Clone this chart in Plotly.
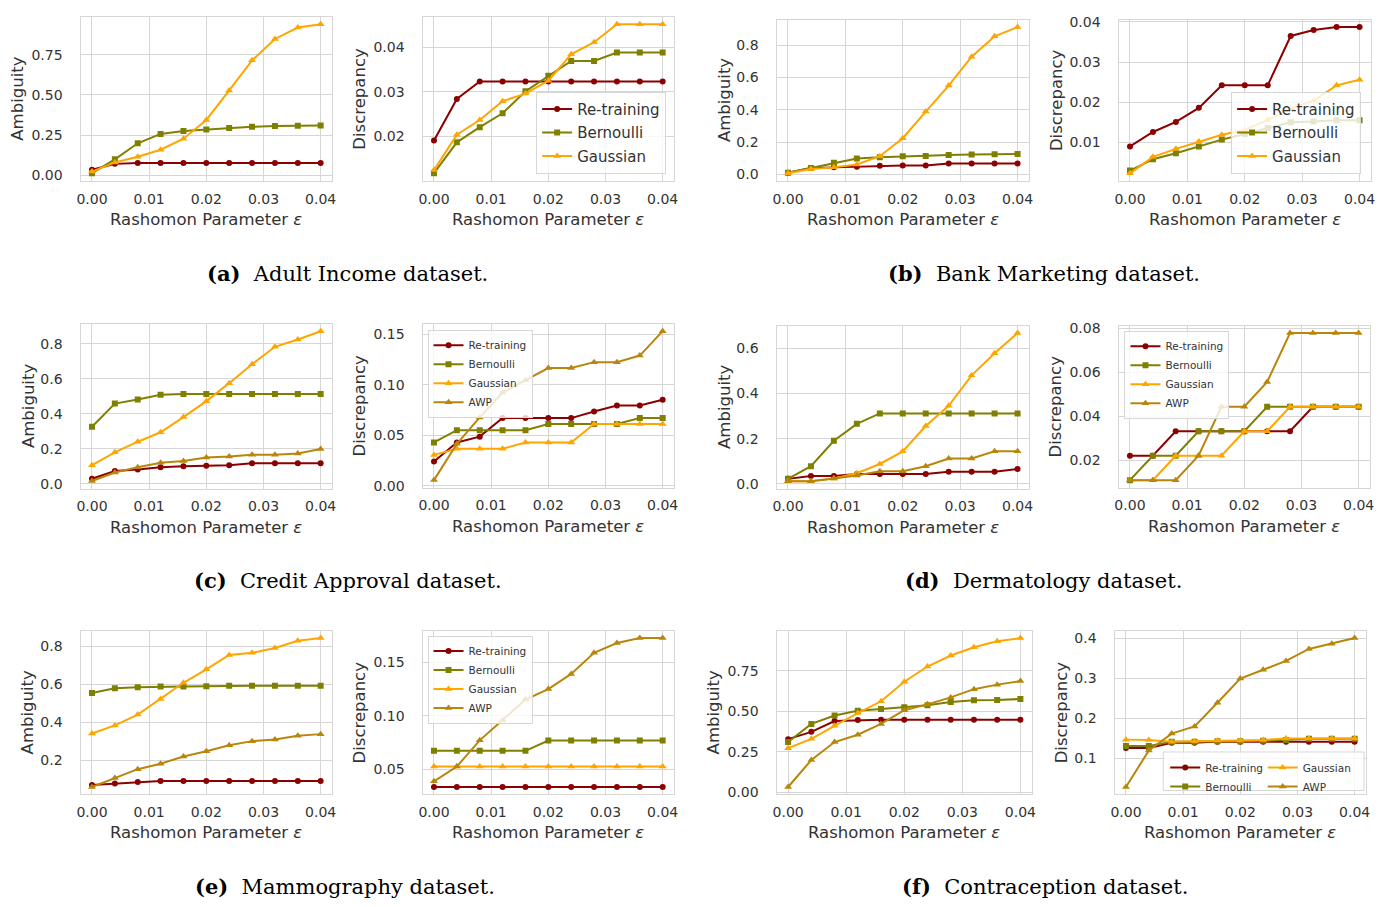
import plotly.graph_objects as go

# Rashomon parameter sweep shared by every panel
eps = [0.000, 0.004, 0.008, 0.012, 0.016, 0.020, 0.024, 0.028, 0.032, 0.036, 0.040]

# (a) Adult Income
adult_amb_retrain = [0.036, 0.072, 0.078, 0.078, 0.078, 0.078, 0.078, 0.078, 0.078, 0.078, 0.078]
adult_amb_bern = [0.014, 0.100, 0.200, 0.258, 0.276, 0.286, 0.295, 0.303, 0.307, 0.309, 0.311]
adult_amb_gauss = [0.024, 0.081, 0.116, 0.160, 0.228, 0.345, 0.528, 0.715, 0.848, 0.919, 0.939]
adult_dis_retrain = [0.0191, 0.0284, 0.0323, 0.0323, 0.0323, 0.0323, 0.0323, 0.0323, 0.0323, 0.0323, 0.0323]
adult_dis_bern = [0.0118, 0.0187, 0.0221, 0.0252, 0.0301, 0.0336, 0.0369, 0.0369, 0.0388, 0.0388, 0.0388]
adult_dis_gauss = [0.0125, 0.0204, 0.0237, 0.0279, 0.0296, 0.0325, 0.0384, 0.0411, 0.0451, 0.0451, 0.0451]

# (b) Bank Marketing
bank_amb_retrain = [0.010, 0.039, 0.043, 0.047, 0.053, 0.055, 0.055, 0.067, 0.067, 0.067, 0.067]
bank_amb_bern = [0.010, 0.039, 0.071, 0.098, 0.106, 0.112, 0.114, 0.120, 0.122, 0.124, 0.126]
bank_amb_gauss = [0.006, 0.033, 0.043, 0.061, 0.112, 0.224, 0.389, 0.550, 0.729, 0.855, 0.912]
bank_dis_retrain = [0.0090, 0.0126, 0.0151, 0.0186, 0.0242, 0.0242, 0.0242, 0.0365, 0.0380, 0.0387, 0.0387]
bank_dis_bern = [0.0030, 0.0058, 0.0073, 0.0090, 0.0107, 0.0121, 0.0136, 0.0150, 0.0152, 0.0155, 0.0155]
bank_dis_gauss = [0.0023, 0.0064, 0.0084, 0.0102, 0.0119, 0.0131, 0.0156, 0.0184, 0.0204, 0.0242, 0.0256]

# (c) Credit Approval
credit_amb_retrain = [0.028, 0.072, 0.081, 0.094, 0.100, 0.102, 0.106, 0.117, 0.117, 0.117, 0.117]
credit_amb_bern = [0.326, 0.458, 0.481, 0.508, 0.513, 0.513, 0.513, 0.513, 0.513, 0.513, 0.513]
credit_amb_gauss = [0.106, 0.179, 0.240, 0.294, 0.381, 0.472, 0.575, 0.683, 0.783, 0.825, 0.872]
credit_amb_awp = [0.015, 0.064, 0.094, 0.119, 0.130, 0.149, 0.155, 0.166, 0.166, 0.172, 0.198]
credit_dis_retrain = [0.0240, 0.0428, 0.0486, 0.0670, 0.0670, 0.0670, 0.0670, 0.0736, 0.0794, 0.0794, 0.0852]
credit_dis_bern = [0.0428, 0.0550, 0.0550, 0.0550, 0.0550, 0.0612, 0.0612, 0.0612, 0.0612, 0.0670, 0.0670]
credit_dis_gauss = [0.0305, 0.0366, 0.0366, 0.0366, 0.0428, 0.0428, 0.0428, 0.0612, 0.0612, 0.0612, 0.0612]
credit_dis_awp = [0.0055, 0.0415, 0.0677, 0.0923, 0.1046, 0.1166, 0.1166, 0.1225, 0.1225, 0.1290, 0.1532]

# (d) Dermatology
derm_amb_retrain = [0.022, 0.035, 0.035, 0.044, 0.044, 0.044, 0.044, 0.054, 0.054, 0.054, 0.066]
derm_amb_bern = [0.022, 0.078, 0.191, 0.266, 0.312, 0.312, 0.312, 0.312, 0.312, 0.312, 0.312]
derm_amb_gauss = [0.012, 0.012, 0.024, 0.047, 0.088, 0.144, 0.256, 0.346, 0.481, 0.579, 0.668]
derm_amb_awp = [0.012, 0.012, 0.024, 0.037, 0.056, 0.056, 0.078, 0.112, 0.112, 0.144, 0.144]
derm_dis_retrain = [0.0222, 0.0222, 0.0333, 0.0333, 0.0333, 0.0333, 0.0333, 0.0333, 0.0444, 0.0444, 0.0444]
derm_dis_bern = [0.0111, 0.0222, 0.0222, 0.0333, 0.0333, 0.0333, 0.0444, 0.0444, 0.0444, 0.0444, 0.0444]
derm_dis_gauss = [0.0111, 0.0111, 0.0222, 0.0222, 0.0222, 0.0333, 0.0333, 0.0444, 0.0444, 0.0444, 0.0444]
derm_dis_awp = [0.0111, 0.0111, 0.0111, 0.0222, 0.0444, 0.0444, 0.0556, 0.0778, 0.0778, 0.0778, 0.0778]

# (e) Mammography
mammo_amb_retrain = [0.069, 0.077, 0.084, 0.089, 0.089, 0.089, 0.089, 0.089, 0.089, 0.089, 0.089]
mammo_amb_bern = [0.554, 0.579, 0.584, 0.588, 0.588, 0.590, 0.593, 0.593, 0.593, 0.593, 0.593]
mammo_amb_gauss = [0.340, 0.383, 0.440, 0.523, 0.608, 0.679, 0.755, 0.766, 0.792, 0.830, 0.844]
mammo_amb_awp = [0.058, 0.105, 0.152, 0.181, 0.219, 0.247, 0.278, 0.300, 0.309, 0.328, 0.337]
mammo_dis_retrain = [0.0333, 0.0333, 0.0333, 0.0333, 0.0333, 0.0333, 0.0333, 0.0333, 0.0333, 0.0333, 0.0333]
mammo_dis_bern = [0.0672, 0.0672, 0.0672, 0.0672, 0.0672, 0.0768, 0.0768, 0.0768, 0.0768, 0.0768, 0.0768]
mammo_dis_gauss = [0.0525, 0.0525, 0.0525, 0.0525, 0.0525, 0.0525, 0.0525, 0.0525, 0.0525, 0.0525, 0.0525]
mammo_dis_awp = [0.0386, 0.0525, 0.0770, 0.0958, 0.1152, 0.1250, 0.1392, 0.1590, 0.1682, 0.1728, 0.1728]

# (f) Contraception
contra_amb_retrain = [0.328, 0.373, 0.440, 0.446, 0.448, 0.448, 0.448, 0.448, 0.448, 0.448, 0.448]
contra_amb_bern = [0.310, 0.422, 0.474, 0.503, 0.515, 0.525, 0.537, 0.558, 0.568, 0.570, 0.576]
contra_amb_gauss = [0.272, 0.330, 0.410, 0.489, 0.562, 0.683, 0.777, 0.845, 0.896, 0.933, 0.953]
contra_amb_awp = [0.032, 0.199, 0.310, 0.355, 0.422, 0.507, 0.543, 0.586, 0.637, 0.665, 0.687]
contra_dis_retrain = [0.126, 0.126, 0.139, 0.139, 0.142, 0.142, 0.142, 0.142, 0.142, 0.142, 0.142]
contra_dis_bern = [0.131, 0.131, 0.142, 0.142, 0.143, 0.143, 0.144, 0.146, 0.149, 0.149, 0.149]
contra_dis_gauss = [0.147, 0.146, 0.142, 0.143, 0.145, 0.145, 0.146, 0.150, 0.150, 0.150, 0.150]
contra_dis_awp = [0.029, 0.120, 0.162, 0.180, 0.239, 0.299, 0.321, 0.343, 0.373, 0.386, 0.400]

captions = [
    "<b>(a)</b>  Adult Income dataset.",
    "<b>(b)</b>  Bank Marketing dataset.",
    "<b>(c)</b>  Credit Approval dataset.",
    "<b>(d)</b>  Dermatology dataset.",
    "<b>(e)</b>  Mammography dataset.",
    "<b>(f)</b>  Contraception dataset.",
]

W, H = 1382, 907
FONT = "DejaVu Sans"
TEXT = "#333333"
GRID = "#d6d6d6"

STYLE = {
    "Re-training": dict(color="#8b0000", symbol="circle", size=6),
    "Bernoulli": dict(color="#808000", symbol="square", size=6),
    "Gaussian": dict(color="#ffa500", symbol="triangle-up", size=7),
    "AWP": dict(color="#b8860b", symbol="triangle-up", size=7),
}

# each panel: series, y label, y tick step, tick format, box in px (left, right, top, bottom),
# legend id, x position of the y label
panels = [
    ([("Re-training", adult_amb_retrain), ("Bernoulli", adult_amb_bern), ("Gaussian", adult_amb_gauss)],
     "Ambiguity", 0.25, ".2f", (77, 330, 11, 177), None, 17),
    ([("Re-training", adult_dis_retrain), ("Bernoulli", adult_dis_bern), ("Gaussian", adult_dis_gauss)],
     "Discrepancy", 0.01, ".2f", (421, 674, 11, 177), "legend", 361),
    ([("Re-training", bank_amb_retrain), ("Bernoulli", bank_amb_bern), ("Gaussian", bank_amb_gauss)],
     "Ambiguity", 0.2, ".1f", (777, 1031, 14, 177), None, 727),
    ([("Re-training", bank_dis_retrain), ("Bernoulli", bank_dis_bern), ("Gaussian", bank_dis_gauss)],
     "Discrepancy", 0.01, ".2f", (1121, 1375, 14, 177), "legend2", 1061),
    ([("Re-training", credit_amb_retrain), ("Bernoulli", credit_amb_bern), ("Gaussian", credit_amb_gauss), ("AWP", credit_amb_awp)],
     "Ambiguity", 0.2, ".1f", (77, 330, 322, 489), None, 27),
    ([("Re-training", credit_dis_retrain), ("Bernoulli", credit_dis_bern), ("Gaussian", credit_dis_gauss), ("AWP", credit_dis_awp)],
     "Discrepancy", 0.05, ".2f", (421, 674, 322, 488), "legend3", 361),
    ([("Re-training", derm_amb_retrain), ("Bernoulli", derm_amb_bern), ("Gaussian", derm_amb_gauss), ("AWP", derm_amb_awp)],
     "Ambiguity", 0.2, ".1f", (777, 1031, 324, 489), None, 727),
    ([("Re-training", derm_dis_retrain), ("Bernoulli", derm_dis_bern), ("Gaussian", derm_dis_gauss), ("AWP", derm_dis_awp)],
     "Discrepancy", 0.02, ".2f", (1121, 1374, 324, 488), "legend4", 1061),
    ([("Re-training", mammo_amb_retrain), ("Bernoulli", mammo_amb_bern), ("Gaussian", mammo_amb_gauss), ("AWP", mammo_amb_awp)],
     "Ambiguity", 0.2, ".1f", (77, 330, 633, 799), None, 27),
    ([("Re-training", mammo_dis_retrain), ("Bernoulli", mammo_dis_bern), ("Gaussian", mammo_dis_gauss), ("AWP", mammo_dis_awp)],
     "Discrepancy", 0.05, ".2f", (421, 674, 633, 799), "legend5", 361),
    ([("Re-training", contra_amb_retrain), ("Bernoulli", contra_amb_bern), ("Gaussian", contra_amb_gauss), ("AWP", contra_amb_awp)],
     "Ambiguity", 0.25, ".2f", (777, 1034, 633, 799), None, 717),
    ([("Re-training", contra_dis_retrain), ("Bernoulli", contra_dis_bern), ("Gaussian", contra_dis_gauss), ("AWP", contra_dis_awp)],
     "Discrepancy", 0.1, ".1f", (1117, 1370, 633, 799), "split", 1067),
]

fig = go.Figure()
layout = dict(
    width=W, height=H, margin=dict(l=0, r=0, t=0, b=0),
    paper_bgcolor="white", plot_bgcolor="white",
    font=dict(family=FONT, color=TEXT, size=14),
    annotations=[], shapes=[],
)

def px_x(v):
    return v / W

def px_y(v):
    return 1 - v / H

for i, (series, ylabel, dtick, fmt, box, leg, ylab_x) in enumerate(panels, start=1):
    sfx = "" if i == 1 else str(i)
    left, right, top, bottom = box
    allv = [v for _, vals in series for v in vals]
    lo, hi = min(allv), max(allv)
    pad = 0.05 * (hi - lo)

    axis_common = dict(
        showgrid=True, gridcolor=GRID, gridwidth=1,
        showline=True, mirror=True, linecolor=GRID, linewidth=1.3,
        zeroline=False, ticks="", tickfont=dict(family=FONT, size=14, color=TEXT),
    )
    layout["xaxis" + sfx] = dict(
        axis_common, domain=[px_x(left), px_x(right)], anchor="y" + sfx,
        range=[-0.002, 0.042], tick0=0, dtick=0.01, tickformat=".2f",
        ticklabelstandoff=5,
    )
    layout["yaxis" + sfx] = dict(
        axis_common, domain=[px_y(bottom), px_y(top)], anchor="x" + sfx,
        range=[lo - pad, hi + pad], tick0=0, dtick=dtick, tickformat=fmt,
        ticklabelstandoff=14,
    )

    for name, vals in series:
        st = STYLE[name]
        if leg == "split":
            legend_id = "legend6" if name in ("Re-training", "Bernoulli") else "legend7"
        else:
            legend_id = leg or "legend"
        fig.add_trace(go.Scatter(
            x=eps, y=vals, name=name, mode="lines+markers",
            line=dict(color=st["color"], width=2),
            marker=dict(color=st["color"], symbol=st["symbol"], size=st["size"]),
            xaxis="x" + sfx, yaxis="y" + sfx,
            legend=legend_id, showlegend=leg is not None,
            legendgroup=f"{i}-{name}",
        ))

    # axis titles
    layout["annotations"].append(dict(
        text="Rashomon Parameter <i>ε</i>", xref="paper", yref="paper",
        x=px_x((left + right) / 2), y=px_y(bottom + 39), xanchor="center", yanchor="middle",
        showarrow=False, font=dict(family=FONT, size=16.5, color=TEXT),
    ))
    layout["annotations"].append(dict(
        text=ylabel, xref="paper", yref="paper", textangle=-90,
        x=px_x(ylab_x - 3), y=px_y((top + bottom) / 2), xanchor="center", yanchor="middle",
        showarrow=False, font=dict(family=FONT, size=16.5, color=TEXT),
    ))

# dataset captions under each pair of panels
cap_pos = [(345, 271), (1046, 271), (346, 582), (1046, 582), (343, 892), (1047, 892)]
for txt, (cx, cy) in zip(captions, cap_pos):
    layout["annotations"].append(dict(
        text=txt, xref="paper", yref="paper", x=px_x(cx), y=px_y(cy),
        xanchor="center", yanchor="middle", showarrow=False,
        font=dict(family="DejaVu Serif", size=21, color="#000000"),
    ))

big_leg = dict(
    bgcolor="rgba(255,255,255,0.8)", bordercolor=GRID, borderwidth=1,
    font=dict(family=FONT, size=15, color=TEXT), tracegroupgap=1, itemwidth=30,
    xanchor="right", yanchor="bottom",
)
small_leg = dict(
    bgcolor="rgba(255,255,255,0.8)", bordercolor=GRID, borderwidth=1,
    font=dict(family=FONT, size=10.5, color=TEXT), tracegroupgap=0, itemwidth=30,
    xanchor="left", yanchor="top",
)
layout["legend"] = dict(big_leg, x=px_x(666), y=px_y(170))
layout["legend2"] = dict(big_leg, x=px_x(1365), y=px_y(170))
layout["legend3"] = dict(small_leg, x=px_x(426), y=px_y(328))
layout["legend4"] = dict(small_leg, x=px_x(1127), y=px_y(329))
layout["legend5"] = dict(small_leg, x=px_x(426), y=px_y(638))
split_leg = dict(small_leg, bgcolor="rgba(0,0,0,0)", borderwidth=0)
layout["legend6"] = dict(split_leg, x=px_x(1168), y=px_y(757))
layout["legend7"] = dict(split_leg, x=px_x(1266), y=px_y(757))
layout["shapes"].append(dict(
    type="rect", xref="paper", yref="paper", layer="above",
    x0=px_x(1166), x1=px_x(1368), y0=px_y(795), y1=px_y(756),
    fillcolor="rgba(255,255,255,0.8)", line=dict(color=GRID, width=1),
))

fig.update_layout(**layout)
fig.write_html("out.html")
